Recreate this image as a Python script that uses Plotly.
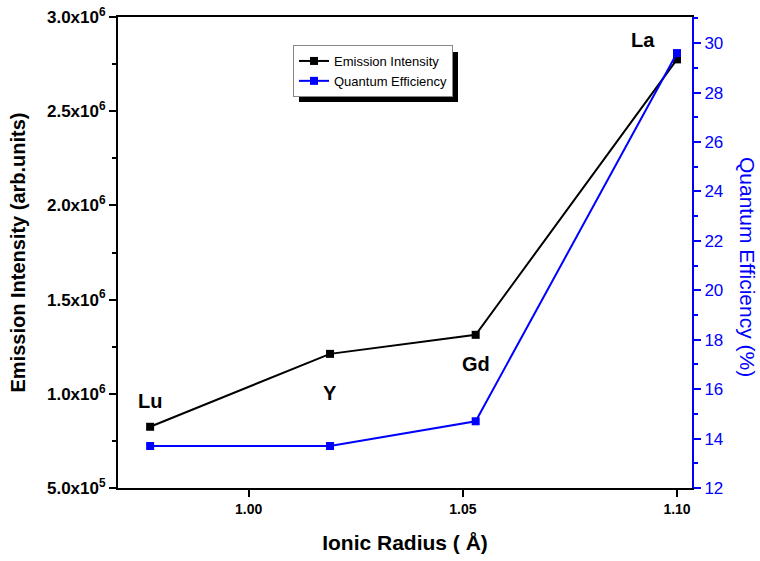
import plotly.graph_objects as go

# Data
elements = ["Lu", "Y", "Gd", "La"]
ionic_radius = [0.977, 1.019, 1.053, 1.100]
emission_intensity = [8.25e5, 1.212e6, 1.313e6, 2.775e6]
quantum_efficiency = [13.7, 13.7, 14.7, 29.6]

left_tickvals = [5e5, 1e6, 1.5e6, 2e6, 2.5e6, 3e6]
left_ticktext = ["5.0x10<sup>5</sup>", "1.0x10<sup>6</sup>", "1.5x10<sup>6</sup>",
                 "2.0x10<sup>6</sup>", "2.5x10<sup>6</sup>", "3.0x10<sup>6</sup>"]
x_tickvals = [1.00, 1.05, 1.10]
x_ticktext = ["1.00", "1.05", "1.10"]
right_tickvals = [12, 14, 16, 18, 20, 22, 24, 26, 28, 30]

# label positions (element names)
label_x = [0.977, 1.019, 1.053, 1.092]
label_y = [9.6e5, 1.005e6, 1.16e6, 2.88e6]

FONT = "Liberation Sans, Arial, sans-serif"

# plot area in window pixels
PL, PR, PT, PB = 118, 692, 17, 488
PW, PH = PR - PL, PB - PT

fig = go.Figure()
fig.add_trace(go.Scatter(
    x=ionic_radius, y=emission_intensity, name="Emission Intensity",
    mode="lines+markers", line=dict(color="black", width=2),
    marker=dict(symbol="square", size=8, color="black"), yaxis="y"))
fig.add_trace(go.Scatter(
    x=ionic_radius, y=quantum_efficiency, name="Quantum Efficiency",
    mode="lines+markers", line=dict(color="#0000ff", width=2),
    marker=dict(symbol="square", size=8, color="#0000ff"), yaxis="y2"))

for el, lx, ly in zip(elements, label_x, label_y):
    fig.add_annotation(x=lx, y=ly, xref="x", yref="y", text="<b>%s</b>" % el,
                       showarrow=False, font=dict(family=FONT, size=20, color="black"))

fig.add_annotation(x=(748 - PL) / PW, y=(PB - 267) / PH, xref="paper", yref="paper",
                   text="Quantum Efficiency (%)", textangle=90, showarrow=False,
                   xanchor="center", yanchor="middle",
                   font=dict(family=FONT, size=21, color="#0000ff"))

# legend shadow
fig.add_shape(type="rect", xref="paper", yref="paper",
              x0=(299 - PL) / PW, x1=(458 - PL) / PW,
              y0=(PB - 102) / PH, y1=(PB - 52) / PH,
              fillcolor="black", line=dict(width=0), layer="above")

fig.update_layout(
    template="none",
    width=760, height=561,
    margin=dict(l=PL, r=760 - PR, t=PT, b=561 - PB),
    paper_bgcolor="white", plot_bgcolor="white",
    font=dict(family=FONT, color="black"),
    showlegend=True,
    legend=dict(x=(293 - PL) / PW, y=(PB - 45) / PH, xanchor="left", yanchor="top",
                bgcolor="white", bordercolor="#888888", borderwidth=1,
                font=dict(family=FONT, size=13, color="black"),
                itemwidth=30, tracegroupgap=0),
    xaxis=dict(range=[0.9695, 1.1035], tickvals=x_tickvals, ticktext=["<b>%s</b>" % t for t in x_ticktext],
               ticks="outside", ticklen=7, tickwidth=2, tickcolor="black", automargin=False,
               showline=True, linewidth=2, linecolor="black", mirror=True,
               showgrid=False, zeroline=False,
               tickfont=dict(family=FONT, size=14, color="black"),
               title=dict(text="<b>Ionic Radius ( Å)</b>", font=dict(family=FONT, size=21, color="black"),
                          standoff=20)),
    yaxis=dict(range=[5e5, 3e6], tickvals=left_tickvals, ticktext=["<b>%s</b>" % t for t in left_ticktext],
               ticks="outside", ticklen=7, tickwidth=2, tickcolor="black", automargin=False,
               ticklabeloverflow="allow",
               minor=dict(dtick=2.5e5, tick0=0, ticks="outside", ticklen=4, tickwidth=2, tickcolor="black"),
               showline=True, linewidth=2, linecolor="black",
               showgrid=False, zeroline=False,
               tickfont=dict(family=FONT, size=17, color="black"),
               title=dict(text="<b>Emission Intensity (arb.units)</b>",
                          font=dict(family=FONT, size=20, color="black"), standoff=16)),
    yaxis2=dict(range=[12, 31.06], overlaying="y", side="right", tickvals=right_tickvals,
                ticks="outside", ticklen=7, tickwidth=2, tickcolor="#0000ff", automargin=False,
                ticklabeloverflow="allow",
                minor=dict(dtick=1, tick0=0, ticks="outside", ticklen=4, tickwidth=2, tickcolor="#0000ff"),
                showline=True, linewidth=2, linecolor="#0000ff",
                showgrid=False, zeroline=False,
                tickfont=dict(family=FONT, size=17, color="#0000ff")),
)

fig.write_html("out.html", config={"displayModeBar": False},
               post_script="document.body.style.margin='0';document.body.style.overflow='hidden';")
